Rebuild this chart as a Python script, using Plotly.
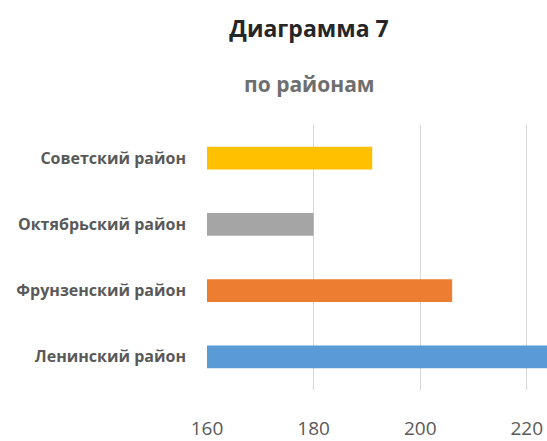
import plotly.graph_objects as go

# District data (bottom to top)
districts = ["Ленинский район", "Фрунзенский район", "Октябрьский район", "Советский район"]
values = [225, 206, 180, 191]
bar_colors = ["#5B9BD5", "#ED7D31", "#A5A5A5", "#FFC000"]
x_ticks = [160, 180, 200, 220]

title_text = "Диаграмма 7"
subtitle_text = "по районам"

W, H = 547, 441
left, right, top, bottom = 207, 0, 125, 36

fig = go.Figure(
    go.Bar(
        x=values,
        y=districts,
        orientation="h",
        marker=dict(color=bar_colors, line=dict(width=0)),
        hoverinfo="x+y",
    )
)

fig.update_layout(
    width=W,
    height=H,
    margin=dict(l=left, r=right, t=top, b=bottom, pad=0),
    paper_bgcolor="white",
    plot_bgcolor="white",
    bargap=0.657,
    showlegend=False,
    font=dict(family="Open Sans, sans-serif", color="#595959"),
    title=dict(
        text=f"<b>{title_text}</b>",
        x=309 / W,
        xanchor="center",
        xref="container",
        y=1 - 29 / H,
        yanchor="middle",
        yref="container",
        font=dict(size=23, color="#262626", family="Open Sans, sans-serif"),
    ),
    annotations=[
        dict(
            text=f"<b>{subtitle_text}</b>",
            xref="paper",
            yref="paper",
            x=(309 - left) / (W - left - right),
            y=(H - bottom - 82) / (H - top - bottom),
            xanchor="center",
            yanchor="middle",
            showarrow=False,
            font=dict(size=21, color="#6E6E6E", family="Open Sans, sans-serif"),
        )
    ],
)

fig.update_xaxes(
    range=[160, 160 + (W - left) / 5.33],
    tickvals=x_ticks,
    ticktext=[str(v) for v in x_ticks],
    showgrid=True,
    gridcolor="#D9D9D9",
    gridwidth=1,
    zeroline=False,
    showline=False,
    ticks="",
    ticklabelstandoff=25,
    tickfont=dict(size=19, color="#595959", family="Open Sans, sans-serif"),
)

fig.update_yaxes(
    categoryorder="array",
    categoryarray=districts,
    showgrid=False,
    showline=False,
    zeroline=False,
    ticks="",
    ticklabelstandoff=20,
    tickfont=dict(size=16, color="#595959", family="Open Sans, sans-serif"),
    tickprefix="<b>",
    ticksuffix="</b>",
)

fig.write_html("out.html")
